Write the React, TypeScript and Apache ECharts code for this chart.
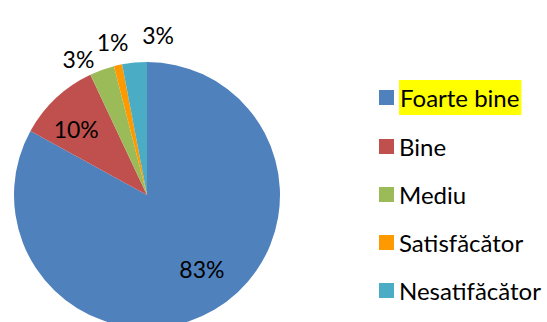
import React, { useEffect, useRef } from 'react';
import * as echarts from 'echarts';

const categories = ['Foarte bine', 'Bine', 'Mediu', 'Satisfăcător', 'Nesatifăcător'];
const values = [83, 10, 3, 1, 3];
const colors = ['#4F81BD', '#C0504D', '#9BBB59', '#FF9900', '#4BACC6'];
const insideLabelled = ['Foarte bine', 'Bine'];
const highlighted = 'Foarte bine';

export default function App() {
  const ref = useRef<HTMLDivElement>(null);
  useEffect(() => {
    document.body.style.margin = '0';
    const chart = echarts.init(ref.current!, null, { renderer: 'svg' });
    const R = 133;
    const center = [147, 195];
    const font = 'Lato';
    const total = values.reduce((a, b) => a + b, 0);
    const pct = (v: number) => Math.round((v / total) * 100) + '%';
    const labelOffsets: Record<string, number[]> = {
      'Foarte bine': [6, -9],
      'Bine': [-5, 4],
      'Mediu': [-15, 13],
      'Satisfăcător': [0, 1],
      'Nesatifăcător': [26, -3],
    };
    const labelStyle = { fontFamily: font, fontSize: 23, color: '#000' };

    const overlay = (radius: number[], show: (n: string) => boolean) => ({
      type: 'pie',
      radius,
      center,
      startAngle: 90,
      clockwise: true,
      silent: true,
      emphasis: { disabled: true },
      labelLine: { show: false },
      itemStyle: { color: 'rgba(0,0,0,0)', borderWidth: 0 },
      data: categories.map((name, i) => ({
        name,
        value: values[i],
        label: {
          show: show(name),
          position: 'inside',
          formatter: () => pct(values[i]),
          offset: labelOffsets[name],
          ...labelStyle,
        },
      })),
    });

    chart.setOption({
      animation: false,
      legend: {
        orient: 'vertical',
        left: 379,
        top: 80,
        padding: 0,
        icon: 'rect',
        itemWidth: 15,
        itemHeight: 15,
        itemGap: 15,
        selectedMode: false,
        data: categories.map((name, i) => ({ name, itemStyle: { color: colors[i] } })),
        formatter: (name: string) => (name === highlighted ? `{hl|${name}}` : name),
        textStyle: {
          fontFamily: font,
          fontSize: 24,
          color: '#000',
          lineHeight: 33,
          rich: {
            hl: {
              fontFamily: font,
              fontSize: 24,
              color: '#000',
              lineHeight: 22,
              backgroundColor: '#FFFF00',
              padding: [5, 2, 6, 1],
            },
          },
        },
      },
      series: [
        {
          type: 'pie',
          radius: R,
          center,
          startAngle: 90,
          clockwise: true,
          silent: true,
          emphasis: { disabled: true },
          label: { show: false },
          labelLine: { show: false },
          data: categories.map((name, i) => ({
            name,
            value: values[i],
            itemStyle: { color: colors[i], borderWidth: 0 },
          })),
        },
        overlay([R * 0.4, R], (n) => insideLabelled.includes(n)),
        overlay([R, R * 1.33], (n) => !insideLabelled.includes(n)),
      ],
    });
    return () => chart.dispose();
  }, []);
  return <div ref={ref} style={{ width: 547, height: 322 }} />;
}
